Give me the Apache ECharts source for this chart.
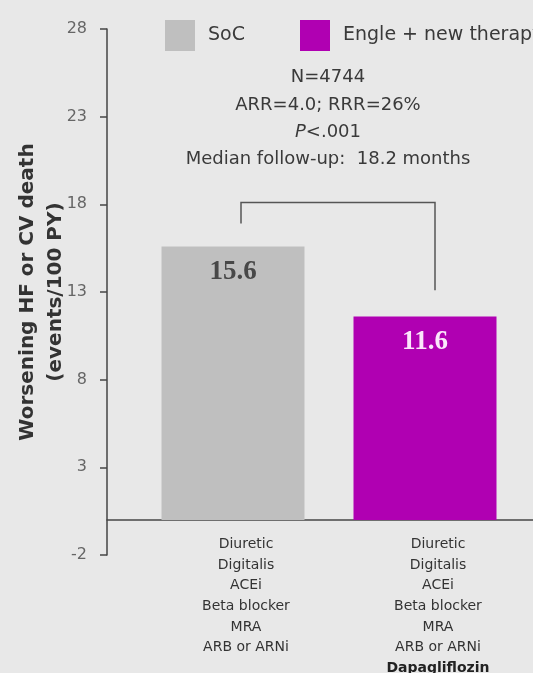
<!DOCTYPE html>
<html>
<head>
<meta charset="utf-8">
<script src="https://cdn.jsdelivr.net/npm/echarts@6/dist/echarts.min.js"></script>
<style>
  html, body { margin: 0; padding: 0; background: #e8e8e8; }
  #chart { width: 533px; height: 673px; }
</style>
</head>
<body>
<div id="chart"></div>
<script>
// Event rates (events per 100 patient-years)
const seriesNames = ['SoC', 'Engle + new therapy'];
const socValues = [15.6, '-'];
const newTherapyValues = ['-', 11.6];

// Background therapy listed under each bar
const baseTherapies = ['Diuretic', 'Digitalis', 'ACEi', 'Beta blocker', 'MRA', 'ARB or ARNi'];
const addedTherapy = 'Dapagliflozin';
const categories = ['soc', 'new'];

// Comparison bracket: left foot, top, right foot (y values)
const bracketLeft = 16.9;
const bracketTop = 18.1;
const bracketRight = 13.1;

// Axis range and ticks
const yMin = -2;
const yMax = 28;
const yStep = 5;

// Trial summary
const summaryLines = ['N=4744', 'ARR=4.0; RRR=26%', '{i|P}<.001', 'Median follow-up:  18.2 months'];

const sans = 'DejaVu Sans';
const chart = echarts.init(document.getElementById('chart'), null, { renderer: 'canvas' });

const categoryText = {
  soc: baseTherapies.join('\n'),
  new: baseTherapies.join('\n') + '\n{b|' + addedTherapy + '}'
};

const legendText = { fontFamily: sans, fontSize: 19, color: '#3a3a3a', padding: [0, 0, 0, 8] };

chart.setOption({
  backgroundColor: '#e8e8e8',
  animation: false,
  legend: [
    {
      data: [seriesNames[0]], left: 160, top: 15, icon: 'rect',
      itemWidth: 30, itemHeight: 31, textStyle: legendText
    },
    {
      data: [seriesNames[1]], left: 295, top: 15, icon: 'rect',
      itemWidth: 30, itemHeight: 31, textStyle: legendText
    }
  ],
  graphic: [{
    type: 'text',
    x: 328,
    y: 64,
    style: {
      text: summaryLines.join('\n'),
      textAlign: 'center',
      textVerticalAlign: 'top',
      fontFamily: sans,
      fontSize: 18,
      lineHeight: 27.3,
      fill: '#3a3a3a',
      rich: { i: { fontStyle: 'italic', fontFamily: sans, fontSize: 18, fill: '#3a3a3a', lineHeight: 27.3 } }
    }
  }],
  grid: [
    { left: 107, right: 0, top: 29, bottom: 118, outerBoundsMode: 'none', containLabel: false },
    { left: 137, right: 12, top: 29, bottom: 118, outerBoundsMode: 'none', containLabel: false }
  ],
  xAxis: [
    {
      type: 'value', gridIndex: 0, min: 0, max: 1,
      axisLine: { show: true, onZero: true, lineStyle: { color: '#454545', width: 1.5 } },
      axisTick: { show: false }, axisLabel: { show: false }, splitLine: { show: false }
    },
    {
      type: 'category', gridIndex: 1, data: categories,
      axisLine: { show: false, onZero: false },
      axisTick: { show: false },
      axisLabel: {
        // the category axis sits on the grid floor (y = -2); pull the labels up under the zero line
        margin: -21,
        fontFamily: sans, fontSize: 14, lineHeight: 20.7, color: '#333',
        padding: [0, 0, 0, 26],
        formatter: v => categoryText[v],
        rich: { b: { fontFamily: sans, fontSize: 14, fontWeight: 'bold', color: '#222', lineHeight: 20.7 } }
      }
    }
  ],
  yAxis: [
    {
      type: 'value', gridIndex: 0, min: yMin, max: yMax, interval: yStep,
      name: 'Worsening HF or CV death\n(events/100 PY)',
      nameLocation: 'middle', nameRotate: 90, nameGap: 37, nameMoveOverlap: false,
      nameTextStyle: { fontFamily: sans, fontSize: 20, fontWeight: 'bold', color: '#333', lineHeight: 28 },
      axisLine: { show: true, lineStyle: { color: '#454545', width: 1.5 } },
      axisTick: { show: true, length: 7, lineStyle: { color: '#454545', width: 1.5 } },
      axisLabel: { margin: 20, fontFamily: sans, fontSize: 16, color: '#666' },
      splitLine: { show: false }
    },
    { type: 'value', gridIndex: 1, min: yMin, max: yMax, show: false, splitLine: { show: false } }
  ],
  series: [
    {
      name: seriesNames[0], type: 'bar', xAxisIndex: 1, yAxisIndex: 1,
      data: socValues, barWidth: 143, barGap: '-100%',
      itemStyle: { color: '#bfbfbf' },
      label: {
        show: true, position: 'insideTop', distance: 12,
        fontFamily: 'Liberation Serif', fontWeight: 'bold', fontSize: 27, color: '#484848'
      }
    },
    {
      name: seriesNames[1], type: 'bar', xAxisIndex: 1, yAxisIndex: 1,
      data: newTherapyValues, barWidth: 143, barGap: '-100%',
      itemStyle: { color: '#b000b2' },
      label: {
        show: true, position: 'insideTop', distance: 12,
        fontFamily: 'Liberation Serif', fontWeight: 'bold', fontSize: 27, color: '#fbe6fb'
      }
    },
    {
      type: 'custom', xAxisIndex: 1, yAxisIndex: 1, silent: true,
      data: [[0, bracketLeft, 1, bracketRight, bracketTop]],
      encode: { x: [0, 2], y: [1, 3, 4] },
      renderItem: (params, api) => {
        const a = api.coord([api.value(0), api.value(1)]);
        const b = api.coord([api.value(2), api.value(3)]);
        const top = api.coord([api.value(0), api.value(4)])[1];
        const xa = a[0] + 8, xb = b[0] + 10;
        return {
          type: 'polyline',
          shape: { points: [[xa, a[1]], [xa, top], [xb, top], [xb, b[1]]] },
          style: { stroke: '#555', lineWidth: 1.5, fill: null }
        };
      }
    }
  ]
});
</script>
</body>
</html>
